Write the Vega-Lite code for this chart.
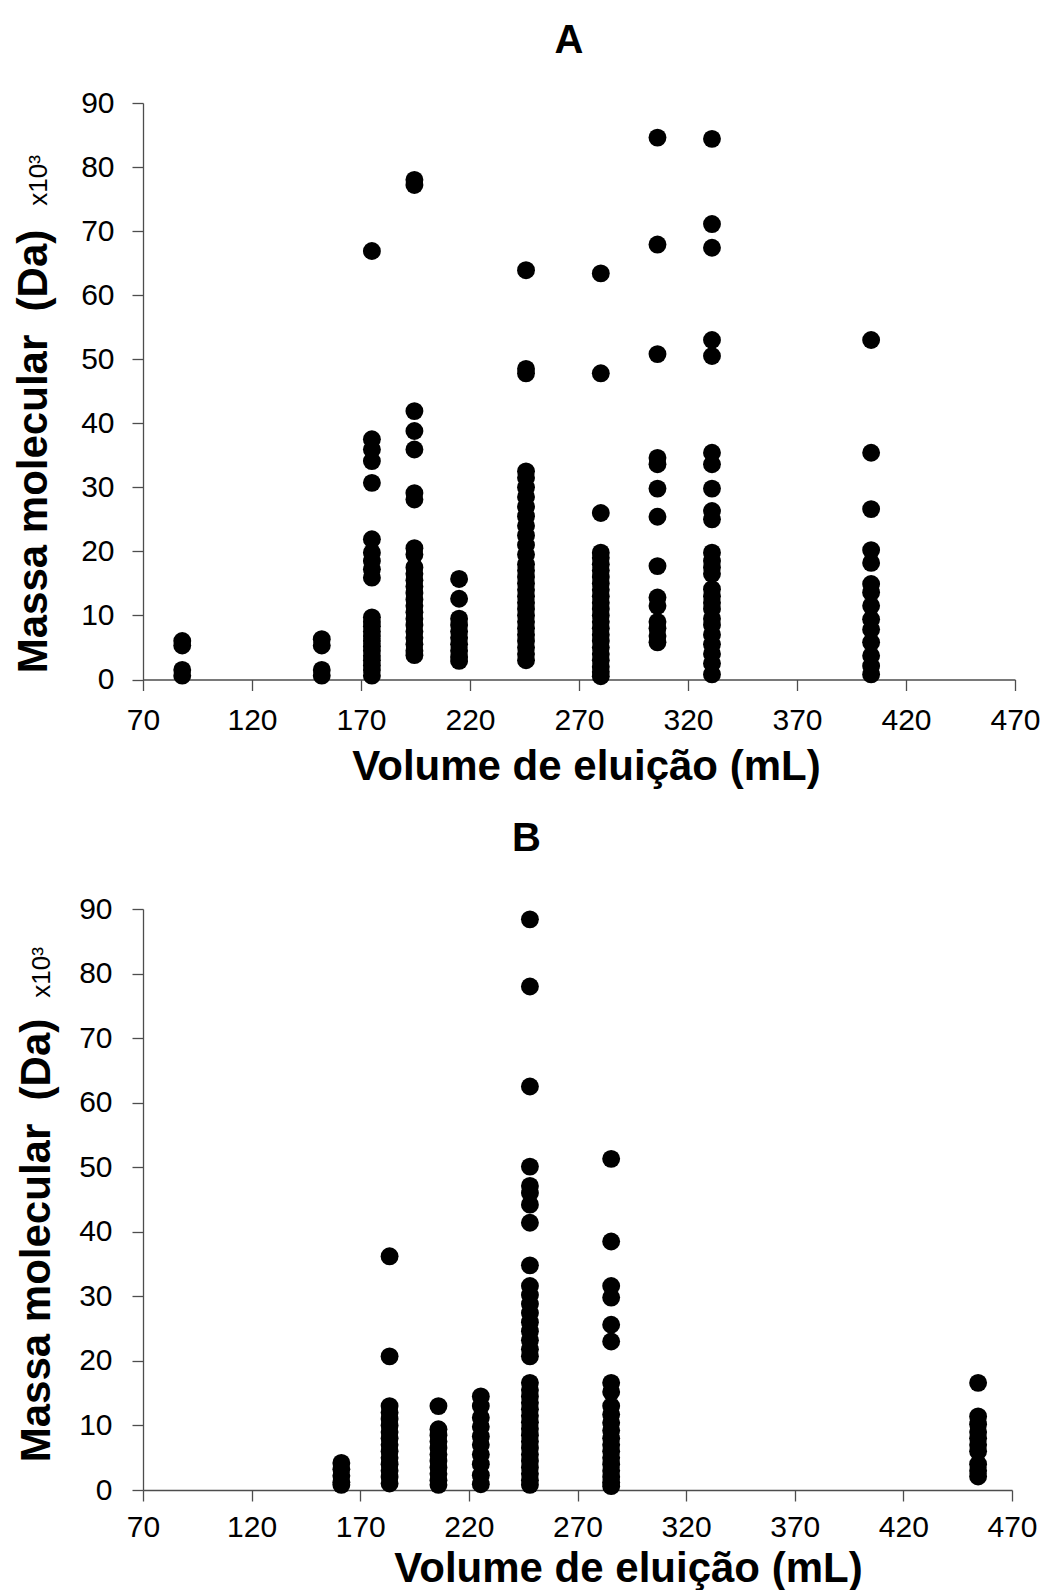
{
  "$schema": "https://vega.github.io/schema/vega-lite/v6.json",
  "padding": {"left": 12, "top": 21, "right": 0, "bottom": 0},
  "spacing": 31,
  "background": "white",
  "config": {
    "view": {"stroke": null},
    "font": "Liberation Sans",
    "axis": {
      "grid": false,
      "domainColor": "#4d4d4d",
      "domainWidth": 1.3,
      "tickColor": "#4d4d4d",
      "tickWidth": 1.3,
      "tickSize": 11,
      "labelFont": "Liberation Sans",
      "labelFontSize": 30,
      "labelColor": "#000000",
      "titleFont": "Liberation Sans",
      "titleFontWeight": "bold",
      "titleColor": "#000000"
    },
    "title": {"font": "Liberation Sans", "fontWeight": "bold", "fontSize": 40, "color": "#000000"}
  },
  "datasets": {
    "A": [
      {"v": 88, "m": 6.0}, {"v": 88, "m": 5.3}, {"v": 88, "m": 1.5}, {"v": 88, "m": 0.6},
      {"v": 152, "m": 6.3}, {"v": 152, "m": 5.3}, {"v": 152, "m": 1.5}, {"v": 152, "m": 0.6},
      {"v": 175, "m": 66.9}, {"v": 175, "m": 37.5}, {"v": 175, "m": 35.9}, {"v": 175, "m": 34.1}, {"v": 175, "m": 30.7},
      {"v": 175, "m": 21.9}, {"v": 175, "m": 19.8}, {"v": 175, "m": 18.5}, {"v": 175, "m": 17.2}, {"v": 175, "m": 15.9},
      {"v": 175, "m": 9.7}, {"v": 175, "m": 9.0}, {"v": 175, "m": 8.3}, {"v": 175, "m": 7.5}, {"v": 175, "m": 6.8},
      {"v": 175, "m": 6.0}, {"v": 175, "m": 5.2}, {"v": 175, "m": 4.5}, {"v": 175, "m": 3.7}, {"v": 175, "m": 3.0},
      {"v": 175, "m": 2.2}, {"v": 175, "m": 1.5}, {"v": 175, "m": 0.6},
      {"v": 194.5, "m": 78.0}, {"v": 194.5, "m": 77.2}, {"v": 194.5, "m": 41.9}, {"v": 194.5, "m": 38.8}, {"v": 194.5, "m": 35.9},
      {"v": 194.5, "m": 29.1}, {"v": 194.5, "m": 28.1}, {"v": 194.5, "m": 20.5}, {"v": 194.5, "m": 19.5}, {"v": 194.5, "m": 17.5},
      {"v": 194.5, "m": 16.5}, {"v": 194.5, "m": 15.5}, {"v": 194.5, "m": 14.5}, {"v": 194.5, "m": 13.5}, {"v": 194.5, "m": 12.5},
      {"v": 194.5, "m": 11.5}, {"v": 194.5, "m": 10.5}, {"v": 194.5, "m": 9.5}, {"v": 194.5, "m": 8.5}, {"v": 194.5, "m": 7.5},
      {"v": 194.5, "m": 6.5}, {"v": 194.5, "m": 5.5}, {"v": 194.5, "m": 4.5}, {"v": 194.5, "m": 3.8},
      {"v": 215, "m": 15.7}, {"v": 215, "m": 12.6}, {"v": 215, "m": 9.5}, {"v": 215, "m": 8.5}, {"v": 215, "m": 7.5},
      {"v": 215, "m": 6.5}, {"v": 215, "m": 5.5}, {"v": 215, "m": 4.5}, {"v": 215, "m": 3.5}, {"v": 215, "m": 2.9},
      {"v": 245.7, "m": 63.9}, {"v": 245.7, "m": 48.5}, {"v": 245.7, "m": 47.8}, {"v": 245.7, "m": 32.5}, {"v": 245.7, "m": 31.5},
      {"v": 245.7, "m": 30.0}, {"v": 245.7, "m": 28.5}, {"v": 245.7, "m": 27.0}, {"v": 245.7, "m": 25.5}, {"v": 245.7, "m": 24.0},
      {"v": 245.7, "m": 22.5}, {"v": 245.7, "m": 21.0}, {"v": 245.7, "m": 19.5}, {"v": 245.7, "m": 18.0}, {"v": 245.7, "m": 17.0},
      {"v": 245.7, "m": 16.0}, {"v": 245.7, "m": 15.0}, {"v": 245.7, "m": 14.0}, {"v": 245.7, "m": 13.0}, {"v": 245.7, "m": 12.0},
      {"v": 245.7, "m": 11.0}, {"v": 245.7, "m": 10.0}, {"v": 245.7, "m": 9.0}, {"v": 245.7, "m": 8.0}, {"v": 245.7, "m": 7.0},
      {"v": 245.7, "m": 6.0}, {"v": 245.7, "m": 5.0}, {"v": 245.7, "m": 4.0}, {"v": 245.7, "m": 3.0},
      {"v": 280, "m": 63.4}, {"v": 280, "m": 47.8}, {"v": 280, "m": 26.0}, {"v": 280, "m": 19.8}, {"v": 280, "m": 19.0},
      {"v": 280, "m": 18.0}, {"v": 280, "m": 17.0}, {"v": 280, "m": 16.0}, {"v": 280, "m": 15.0}, {"v": 280, "m": 14.0},
      {"v": 280, "m": 13.0}, {"v": 280, "m": 12.0}, {"v": 280, "m": 11.0}, {"v": 280, "m": 10.0}, {"v": 280, "m": 9.0},
      {"v": 280, "m": 8.0}, {"v": 280, "m": 7.0}, {"v": 280, "m": 6.0}, {"v": 280, "m": 5.0}, {"v": 280, "m": 4.0},
      {"v": 280, "m": 3.0}, {"v": 280, "m": 2.0}, {"v": 280, "m": 1.2}, {"v": 280, "m": 0.5},
      {"v": 306, "m": 84.6}, {"v": 306, "m": 67.9}, {"v": 306, "m": 50.8}, {"v": 306, "m": 34.6}, {"v": 306, "m": 33.6},
      {"v": 306, "m": 29.8}, {"v": 306, "m": 25.4}, {"v": 306, "m": 17.7}, {"v": 306, "m": 12.8}, {"v": 306, "m": 11.5},
      {"v": 306, "m": 9.0}, {"v": 306, "m": 8.0}, {"v": 306, "m": 6.8}, {"v": 306, "m": 5.8},
      {"v": 331, "m": 84.4}, {"v": 331, "m": 71.1}, {"v": 331, "m": 67.4}, {"v": 331, "m": 53.0}, {"v": 331, "m": 50.5},
      {"v": 331, "m": 35.4}, {"v": 331, "m": 33.6}, {"v": 331, "m": 29.8}, {"v": 331, "m": 26.3}, {"v": 331, "m": 25.0},
      {"v": 331, "m": 19.8}, {"v": 331, "m": 18.5}, {"v": 331, "m": 17.5}, {"v": 331, "m": 16.5}, {"v": 331, "m": 14.1},
      {"v": 331, "m": 13.0}, {"v": 331, "m": 12.0}, {"v": 331, "m": 11.0}, {"v": 331, "m": 9.5}, {"v": 331, "m": 8.5},
      {"v": 331, "m": 7.0}, {"v": 331, "m": 5.5}, {"v": 331, "m": 4.0}, {"v": 331, "m": 2.5}, {"v": 331, "m": 0.8},
      {"v": 404, "m": 53.0}, {"v": 404, "m": 35.4}, {"v": 404, "m": 26.6}, {"v": 404, "m": 20.2}, {"v": 404, "m": 18.2},
      {"v": 404, "m": 14.9}, {"v": 404, "m": 13.6}, {"v": 404, "m": 11.5}, {"v": 404, "m": 9.4}, {"v": 404, "m": 7.8},
      {"v": 404, "m": 5.8}, {"v": 404, "m": 3.7}, {"v": 404, "m": 2.1}, {"v": 404, "m": 0.8}
    ],
    "B": [
      {"v": 161.3, "m": 4.2}, {"v": 161.3, "m": 3.2}, {"v": 161.3, "m": 2.2}, {"v": 161.3, "m": 1.2}, {"v": 161.3, "m": 0.8},
      {"v": 183.5, "m": 36.2}, {"v": 183.5, "m": 20.7}, {"v": 183.5, "m": 13.0}, {"v": 183.5, "m": 12.0}, {"v": 183.5, "m": 11.0},
      {"v": 183.5, "m": 10.0}, {"v": 183.5, "m": 9.0}, {"v": 183.5, "m": 8.0}, {"v": 183.5, "m": 7.0}, {"v": 183.5, "m": 6.0},
      {"v": 183.5, "m": 5.0}, {"v": 183.5, "m": 4.0}, {"v": 183.5, "m": 3.0}, {"v": 183.5, "m": 2.0}, {"v": 183.5, "m": 1.0},
      {"v": 206, "m": 13.0}, {"v": 206, "m": 9.4}, {"v": 206, "m": 8.5}, {"v": 206, "m": 7.5}, {"v": 206, "m": 6.5},
      {"v": 206, "m": 5.5}, {"v": 206, "m": 4.5}, {"v": 206, "m": 3.5}, {"v": 206, "m": 2.5}, {"v": 206, "m": 1.5}, {"v": 206, "m": 0.8},
      {"v": 225.5, "m": 14.5}, {"v": 225.5, "m": 13.0}, {"v": 225.5, "m": 11.2}, {"v": 225.5, "m": 9.8}, {"v": 225.5, "m": 8.3},
      {"v": 225.5, "m": 7.0}, {"v": 225.5, "m": 5.5}, {"v": 225.5, "m": 4.0}, {"v": 225.5, "m": 2.3}, {"v": 225.5, "m": 0.9},
      {"v": 248.1, "m": 88.4}, {"v": 248.1, "m": 78.0}, {"v": 248.1, "m": 62.5}, {"v": 248.1, "m": 50.1}, {"v": 248.1, "m": 47.1},
      {"v": 248.1, "m": 46.0}, {"v": 248.1, "m": 44.2}, {"v": 248.1, "m": 41.4}, {"v": 248.1, "m": 34.8}, {"v": 248.1, "m": 31.6},
      {"v": 248.1, "m": 30.2}, {"v": 248.1, "m": 28.8}, {"v": 248.1, "m": 27.4}, {"v": 248.1, "m": 26.0}, {"v": 248.1, "m": 24.6},
      {"v": 248.1, "m": 23.2}, {"v": 248.1, "m": 21.8}, {"v": 248.1, "m": 20.7}, {"v": 248.1, "m": 16.6}, {"v": 248.1, "m": 15.5},
      {"v": 248.1, "m": 14.5}, {"v": 248.1, "m": 13.5}, {"v": 248.1, "m": 12.5}, {"v": 248.1, "m": 11.5}, {"v": 248.1, "m": 10.5},
      {"v": 248.1, "m": 9.5}, {"v": 248.1, "m": 8.5}, {"v": 248.1, "m": 7.5}, {"v": 248.1, "m": 6.5}, {"v": 248.1, "m": 5.5},
      {"v": 248.1, "m": 4.5}, {"v": 248.1, "m": 3.5}, {"v": 248.1, "m": 2.5}, {"v": 248.1, "m": 1.5}, {"v": 248.1, "m": 0.8},
      {"v": 285.5, "m": 51.3}, {"v": 285.5, "m": 38.5}, {"v": 285.5, "m": 31.6}, {"v": 285.5, "m": 29.8}, {"v": 285.5, "m": 25.6},
      {"v": 285.5, "m": 23.0}, {"v": 285.5, "m": 16.6}, {"v": 285.5, "m": 15.2}, {"v": 285.5, "m": 13.0}, {"v": 285.5, "m": 11.7},
      {"v": 285.5, "m": 10.4}, {"v": 285.5, "m": 9.2}, {"v": 285.5, "m": 8.0}, {"v": 285.5, "m": 7.0}, {"v": 285.5, "m": 6.0},
      {"v": 285.5, "m": 5.0}, {"v": 285.5, "m": 4.0}, {"v": 285.5, "m": 3.0}, {"v": 285.5, "m": 2.0}, {"v": 285.5, "m": 1.2}, {"v": 285.5, "m": 0.6},
      {"v": 454.4, "m": 16.6}, {"v": 454.4, "m": 11.4}, {"v": 454.4, "m": 10.2}, {"v": 454.4, "m": 9.0}, {"v": 454.4, "m": 8.0},
      {"v": 454.4, "m": 7.0}, {"v": 454.4, "m": 6.0}, {"v": 454.4, "m": 4.0}, {"v": 454.4, "m": 3.0}, {"v": 454.4, "m": 2.1}
    ]
  },
  "vconcat": [
    {
      "title": {"text": "A", "frame": "group", "anchor": "middle", "baseline": "alphabetic", "offset": -5, "dx": -10},
      "width": 872,
      "height": 576.5,
      "data": {"name": "A"},
      "resolve": {"scale": {"y": "independent"}},
      "layer": [
        {
          "mark": {"type": "circle", "size": 320, "color": "#000000", "opacity": 1},
          "encoding": {
            "x": {"field": "v", "type": "quantitative", "scale": {"domain": [70, 470], "nice": false, "zero": false},
                  "axis": {"values": [70, 120, 170, 220, 270, 320, 370, 420, 470], "title": "Volume de eluição (mL)",
                           "titleFontSize": 42, "titleBaseline": "alphabetic", "titleAnchor": "start", "titleAlign": "center",
                           "titleX": 443, "titleY": 100, "labelPadding": 38.8, "labelBaseline": "alphabetic", "labelFlush": false}},
            "y": {"field": "m", "type": "quantitative", "scale": {"domain": [0, 90], "nice": false},
                  "axis": {"values": [0, 10, 20, 30, 40, 50, 60, 70, 80, 90], "title": "Massa molecular\u00a0 (Da)",
                           "titleFontSize": 42, "titleBaseline": "alphabetic", "titleAlign": "center", "titleAngle": 270,
                           "titleX": -97, "titleY": 348, "labelPadding": 18, "labelFlush": false}}
          }
        },
        {
          "mark": {"type": "circle", "size": 320, "opacity": 0},
          "encoding": {
            "x": {"field": "v", "type": "quantitative"},
            "y": {"field": "m", "type": "quantitative", "scale": {"domain": [0, 90], "nice": false},
                  "axis": {"orient": "left", "title": "x10³", "labels": false, "ticks": false, "domain": false,
                           "titleFontSize": 26, "titleFontWeight": "normal", "titleBaseline": "alphabetic", "titleAlign": "center",
                           "titleAngle": 270, "titleX": -97, "titleY": 77}}
          }
        }
      ]
    },
    {
      "title": {"text": "B", "frame": "group", "anchor": "middle", "baseline": "alphabetic", "offset": 3, "dx": -51},
      "width": 869,
      "height": 581,
      "data": {"name": "B"},
      "resolve": {"scale": {"y": "independent"}},
      "layer": [
        {
          "mark": {"type": "circle", "size": 320, "color": "#000000", "opacity": 1},
          "encoding": {
            "x": {"field": "v", "type": "quantitative", "scale": {"domain": [70, 470], "nice": false, "zero": false},
                  "axis": {"values": [70, 120, 170, 220, 270, 320, 370, 420, 470], "title": "Volume de eluição (mL)",
                           "titleFontSize": 42, "titleBaseline": "alphabetic", "titleAnchor": "start", "titleAlign": "center",
                           "titleX": 485, "titleY": 91.4, "labelPadding": 35.4, "labelBaseline": "alphabetic", "labelFlush": false}},
            "y": {"field": "m", "type": "quantitative", "scale": {"domain": [0, 90], "nice": false},
                  "axis": {"values": [0, 10, 20, 30, 40, 50, 60, 70, 80, 90], "title": "Massa molecular\u00a0 (Da)",
                           "titleFontSize": 42, "titleBaseline": "alphabetic", "titleAlign": "center", "titleAngle": 270,
                           "titleX": -94, "titleY": 331, "labelPadding": 20, "labelFlush": false}}
          }
        },
        {
          "mark": {"type": "circle", "size": 320, "opacity": 0},
          "encoding": {
            "x": {"field": "v", "type": "quantitative"},
            "y": {"field": "m", "type": "quantitative", "scale": {"domain": [0, 90], "nice": false},
                  "axis": {"orient": "left", "title": "x10³", "labels": false, "ticks": false, "domain": false,
                           "titleFontSize": 26, "titleFontWeight": "normal", "titleBaseline": "alphabetic", "titleAlign": "center",
                           "titleAngle": 270, "titleX": -94, "titleY": 63}}
          }
        }
      ]
    }
  ]
}
